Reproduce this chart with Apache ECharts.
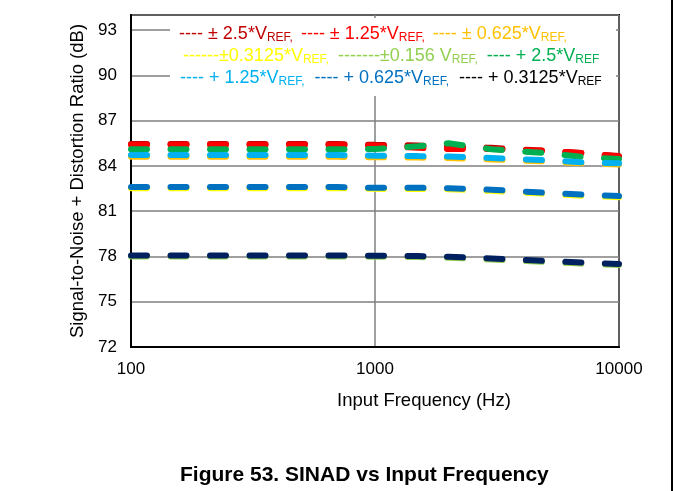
<!DOCTYPE html>
<html>
<head>
<meta charset="utf-8">
<script src="https://cdn.jsdelivr.net/npm/echarts@6/dist/echarts.min.js"></script>
<style>html,body{margin:0;padding:0;background:#fff;}#c{width:674px;height:491px;}</style>
</head>
<body>
<div id="c"></div>
<script>
const freqs = [100, 150, 200, 300, 500, 700, 1000, 1500, 2000, 3000, 5000, 7000, 10000];
const pm2_5    = [85.45, 85.45, 85.45, 85.45, 85.45, 85.45, 85.4, 85.35, 85.3, 85.2, 85.0, 84.85, 84.65];
const pm1_25   = [85.4, 85.4, 85.4, 85.4, 85.4, 85.4, 85.35, 85.2, 85.12, 85.12, 85.0, 84.85, 84.62];
const pm0_625  = [84.6, 84.6, 84.6, 84.6, 84.6, 84.6, 84.57, 84.55, 84.53, 84.43, 84.3, 84.17, 84.1];
const pm0_3125 = [82.52, 82.52, 82.52, 82.52, 82.52, 82.52, 82.48, 82.47, 82.45, 82.35, 82.15, 82.03, 81.93];
const pm0_156  = [78.0, 78.0, 78.0, 78.0, 78.0, 78.0, 77.98, 77.96, 77.92, 77.8, 77.63, 77.53, 77.44];
const p2_5     = [85.1, 85.1, 85.1, 85.1, 85.1, 85.1, 85.12, 85.3, 85.5, 85.1, 84.85, 84.6, 84.45];
const p1_25    = [84.72, 84.72, 84.72, 84.72, 84.72, 84.72, 84.68, 84.65, 84.63, 84.52, 84.38, 84.25, 84.17];
const p0_625   = [82.6, 82.6, 82.6, 82.6, 82.6, 82.6, 82.55, 82.55, 82.52, 82.42, 82.22, 82.1, 82.0];
const p0_3125  = [78.07, 78.07, 78.07, 78.07, 78.07, 78.07, 78.05, 78.03, 77.98, 77.87, 77.7, 77.6, 77.5];

const seriesNames = ['pm2.5', 'pm1.25', 'pm0.625', 'pm0.3125', 'pm0.156', 'p2.5', 'p1.25', 'p0.625', 'p0.3125'];
const seriesValues = [pm2_5, pm1_25, pm0_625, pm0_3125, pm0_156, p2_5, p1_25, p0_625, p0_3125];
const lineColors = ['#c00000', '#ff0000', '#ffc000', '#ffff00', '#92d050', '#00b050', '#00b0f0', '#0070c0', '#002060'];
const legendColors = ['#c00000', '#ff0000', '#ffc000', '#ffff00', '#92d050', '#00b050', '#00b0f0', '#0070c0', '#000000'];
const legendLabels = [
  '---- ± 2.5*V{s|REF,}', '---- ± 1.25*V{s|REF,}', '---- ± 0.625*V{s|REF,}',
  '------±0.3125*V{s|REF,}', '-------±0.156 V{s|REF,}', '---- + 2.5*V{s|REF}',
  '---- + 1.25*V{s|REF,}', '---- + 0.625*V{s|REF,}', '---- + 0.3125*V{s|REF}'
];
const yTicks = [72, 75, 78, 81, 84, 87, 90, 93];
const xTicks = [100, 1000, 10000];

const FONT = '"Liberation Sans", Arial, sans-serif';
const labelMap = {};
seriesNames.forEach((n, i) => labelMap[n] = legendLabels[i]);

function makeLegend(idx, left, top, gap) {
  return {
    left: left, top: top, orient: 'horizontal', icon: 'none',
    itemWidth: 0, itemHeight: 10, itemGap: gap, padding: 0, selectedMode: false, z: 10,
    data: idx.map(i => ({ name: seriesNames[i], textStyle: { color: legendColors[i] } })),
    formatter: n => labelMap[n],
    textStyle: {
      fontSize: 18, fontFamily: FONT, lineHeight: 20,
      rich: { s: { fontSize: 12, fontFamily: FONT, padding: [8, 0, 0, 0], lineHeight: 13 } }
    }
  };
}

const chart = echarts.init(document.getElementById('c'), null, { renderer: 'canvas' });
chart.setOption({
  animation: false,
  backgroundColor: '#fff',
  title: {
    text: 'Figure 53. SINAD vs Input Frequency', left: 175, top: 460,
    textStyle: { fontSize: 21, fontWeight: 'bold', fontFamily: FONT, color: '#000' }
  },
  grid: { left: 131, right: 55, top: 15, bottom: 144, show: true, borderColor: '#000', borderWidth: 2, backgroundColor: 'transparent' },
  legend: [
    makeLegend([0, 1, 2], 174, 24, 3),
    makeLegend([3, 4, 5], 178, 46, 4),
    makeLegend([6, 7, 8], 175, 68, 5)
  ],
  graphic: [
    { type: 'rect', shape: { x: 170, y: 18, width: 446, height: 78 }, style: { fill: '#fff' }, z: 5, silent: true },
    { type: 'line', shape: { x1: 672, y1: 0, x2: 672, y2: 491 }, style: { stroke: '#000', lineWidth: 2 }, z: 5, silent: true }
  ],
  xAxis: {
    type: 'log', logBase: 10, min: xTicks[0], max: xTicks[xTicks.length - 1],
    name: 'Input Frequency (Hz)', nameLocation: 'middle', nameGap: 44,
    nameTextStyle: { fontSize: 18.5, fontFamily: FONT, color: '#000', padding: [0, 0, 0, 98] },
    axisLine: { show: true, lineStyle: { color: '#000', width: 2 } },
    axisTick: { show: false },
    minorTick: { show: false },
    axisLabel: { fontSize: 17, fontFamily: FONT, color: '#000', margin: 14, formatter: v => String(v) },
    splitLine: { show: true, lineStyle: { color: '#7f7f7f', width: 1.5 } }
  },
  yAxis: {
    type: 'value', min: 72, max: 94, interval: 3,
    name: 'Signal-to-Noise + Distortion Ratio (dB)', nameLocation: 'middle', nameGap: 44,
    nameTextStyle: { fontSize: 18.5, fontFamily: FONT, color: '#000', padding: [0, 0, 0, 0] },
    axisLine: { show: true, lineStyle: { color: '#000', width: 2 } },
    axisTick: { show: false },
    axisLabel: {
      fontSize: 17, fontFamily: FONT, color: '#000', margin: 14, showMaxLabel: false,
      formatter: v => (yTicks.indexOf(v) >= 0 ? String(v) : '')
    },
    splitLine: { show: true, lineStyle: { color: '#7f7f7f', width: 1.5 } }
  },
  series: seriesNames.map((n, i) => ({
    name: n, type: 'line', showSymbol: false, symbol: 'none', silent: true, clip: true,
    color: lineColors[i],
    lineStyle: { color: lineColors[i], width: 6, type: [16, 23.5], cap: 'round' },
    data: freqs.map((f, j) => [f, seriesValues[i][j]])
  }))
});
</script>
</body>
</html>
